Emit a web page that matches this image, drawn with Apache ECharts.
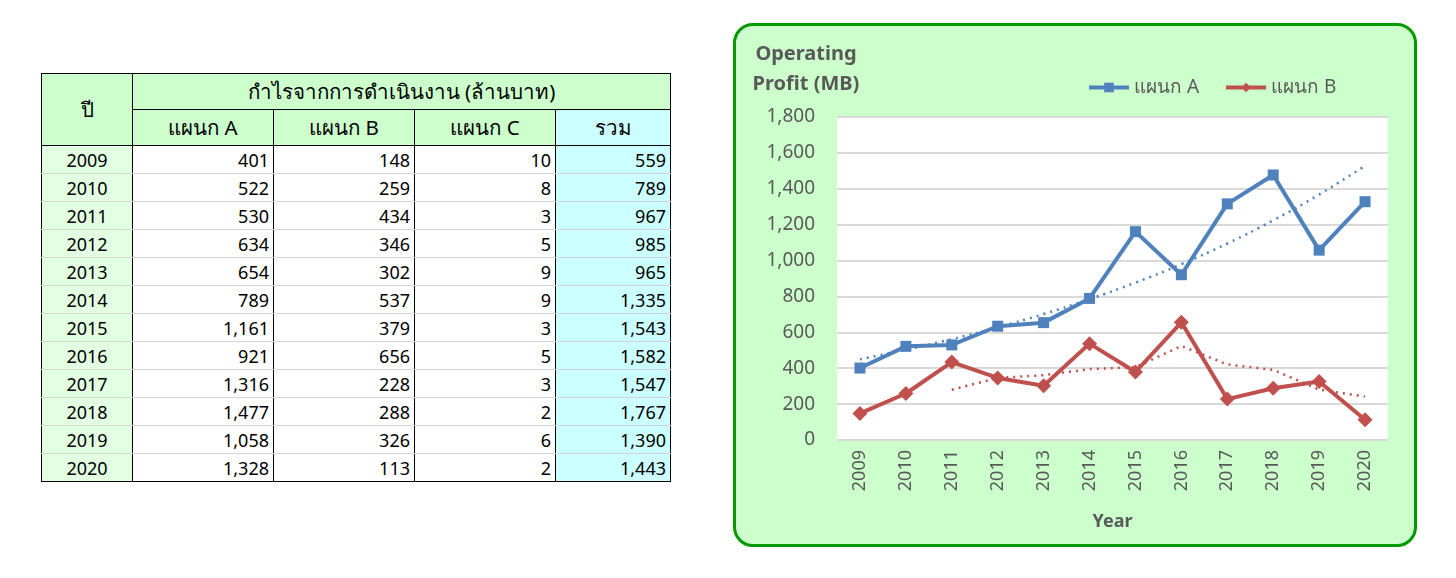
<!DOCTYPE html>
<html><head><meta charset="utf-8">
<script src="https://cdn.jsdelivr.net/npm/echarts@6/dist/echarts.min.js"></script>
<style>
html,body{margin:0;padding:0;background:#fff;width:1456px;height:578px;overflow:hidden;font-family:"Noto Sans","Open Sans",sans-serif;}
#tbl{position:absolute;left:41px;top:73px;border-collapse:collapse;font-size:18px;color:#000;}
#tbl td{padding:0 4px;box-sizing:border-box;}
#tbl .h{background:#ccffcc;border:1px solid #000;text-align:center;height:36px;font-size:20.5px;}
#tbl .tot{background:#ccffff;}
#tbl .yr{background:#e2ffe2;text-align:center;border-left:1px solid #000;border-right:1px solid #000;}
#tbl .v{text-align:right;border-right:1px solid #000;border-bottom:1px solid #d4d4d4;height:28px;}
#tbl tr.last td{border-bottom:1px solid #000;}
#box{position:absolute;left:733px;top:23px;width:684px;height:524px;box-sizing:border-box;border:3px solid #009900;border-radius:20px;background:#ccffcc;overflow:hidden;}
#chart{width:678px;height:518px;}
</style></head>
<body>
<table id="tbl"></table>
<div id="box"><div id="chart"></div></div>
<script>
const years = ['2009','2010','2011','2012','2013','2014','2015','2016','2017','2018','2019','2020'];
const deptA = [401,522,530,634,654,789,1161,921,1316,1477,1058,1328];
const deptB = [148,259,434,346,302,537,379,656,228,288,326,113];
const deptC = [10,8,3,5,9,9,3,5,3,2,6,2];
const totals = [559,789,967,985,965,1335,1543,1582,1547,1767,1390,1443];
// trendlines
const trendA = [450,503,562,628,702,785,877,980,1095,1224,1368,1528];
const trendB = [null,null,280,346,361,395,406,524,421,391,281,242];
const yTicks = [0,200,400,600,800,1000,1200,1400,1600,1800];

const fmt = v => v.toLocaleString('en-US');
// build table
const tbl = document.getElementById('tbl');
let html = '<tr><td class="h" rowspan="2" style="width:91px">ปี</td><td class="h" colspan="4">กำไรจากการดำเนินงาน (ล้านบาท)</td></tr>';
html += '<tr><td class="h" style="width:141px">แผนก A</td><td class="h" style="width:141px">แผนก B</td><td class="h" style="width:141px">แผนก C</td><td class="h tot" style="width:115px">รวม</td></tr>';
years.forEach((y,i)=>{
  html += '<tr'+(i===years.length-1?' class="last"':'')+'><td class="yr v" style="text-align:center">'+y+'</td><td class="v">'+fmt(deptA[i])+'</td><td class="v">'+fmt(deptB[i])+'</td><td class="v">'+fmt(deptC[i])+'</td><td class="v tot">'+fmt(totals[i])+'</td></tr>';
});
tbl.innerHTML = html;

const chart = echarts.init(document.getElementById('chart'));
const grey = '#595959';
chart.setOption({
  animation:false,
  textStyle:{fontFamily:'"Noto Sans","Open Sans",sans-serif'},
  title:{text:'Operating\nProfit (MB)',left:65,top:8,textAlign:'center',
    textStyle:{fontSize:20,fontWeight:'bold',color:grey,lineHeight:30,align:'center'}},
  legend:{data:['แผนก A','แผนก B'],top:47,left:346,itemWidth:40,itemHeight:12,itemGap:25,
    lineStyle:{width:4},
    textStyle:{fontSize:19,color:grey}},
  grid:{left:101,top:91,width:551,height:323,show:true,backgroundColor:'#fff',borderWidth:0},
  xAxis:{type:'category',data:years,boundaryGap:true,
    name:'Year',nameLocation:'middle',nameGap:73,nameTextStyle:{fontSize:18,fontWeight:'bold',color:grey},
    axisLine:{show:false},axisTick:{show:false},
    axisLabel:{rotate:90,fontSize:18,color:grey,margin:10}},
  yAxis:{type:'value',min:0,max:1800,interval:200,
    axisLine:{show:false},axisTick:{show:false},
    axisLabel:{fontSize:19,color:grey,margin:22,formatter:v=>fmt(v)},
    splitLine:{lineStyle:{color:'#d9d9d9',width:2}}},
  series:[
    {name:'แผนก A',type:'line',data:deptA,symbol:'rect',symbolSize:11,
      lineStyle:{width:4,color:'#4f81bd'},itemStyle:{color:'#4f81bd'},z:3},
    {name:'แผนก B',type:'line',data:deptB,symbol:'diamond',symbolSize:15,
      lineStyle:{width:4,color:'#c0504d'},itemStyle:{color:'#c0504d'},z:3},
    {name:'trendA',type:'line',data:trendA,symbol:'none',smooth:true,
      lineStyle:{width:2.5,color:'#4f81bd',type:[2,5]},z:4,tooltip:{show:false}},
    {name:'trendB',type:'line',data:trendB,symbol:'none',
      lineStyle:{width:2.5,color:'#c0504d',type:[2,5]},z:4}
  ]
});
</script>
</body></html>
